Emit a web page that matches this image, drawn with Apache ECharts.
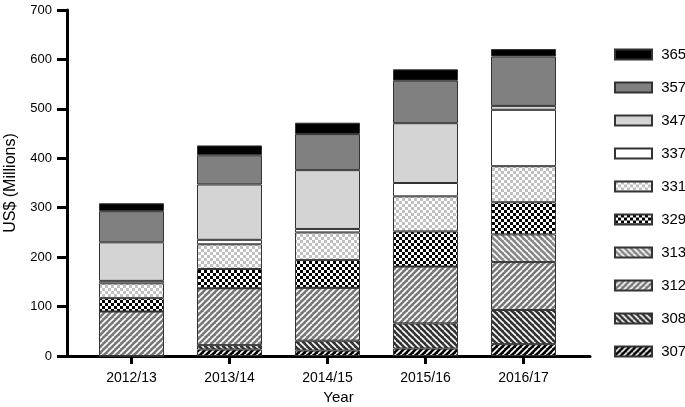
<!DOCTYPE html>
<html><head><meta charset="utf-8">
<script src="https://cdn.jsdelivr.net/npm/echarts@6/dist/echarts.min.js"></script>
<style>html,body{margin:0;padding:0;background:#fff}#c{width:685px;height:407px}</style>
</head><body><div id="c"></div>
<script>
var categories = ['2012/13', '2013/14', '2014/15', '2015/16', '2016/17'];
var yTicks = [0, 100, 200, 300, 400, 500, 600, 700];
var v307 = [0, 13, 11, 15, 24];
var v308 = [0, 9, 20, 51, 69];
var v312 = [90, 115, 107, 115, 97];
var v313 = [0, 0, 0, 0, 56];
var v329 = [27, 39, 56, 71, 65];
var v331 = [30, 50, 56, 71, 73];
var v337 = [5, 9, 7, 27, 114];
var v347 = [78, 112, 119, 121, 8];
var v357 = [63, 59, 73, 86, 100];
var v365 = [16, 20, 23, 23, 15];
var seriesNames = ['307', '308', '312', '313', '329', '331', '337', '347', '357', '365'];
var seriesValues = [v307, v308, v312, v313, v329, v331, v337, v347, v357, v365];

function stripes(bg, fg, dir, p, lw) {
  var c = document.createElement('canvas');
  c.width = p; c.height = p;
  var g = c.getContext('2d');
  g.fillStyle = bg; g.fillRect(0, 0, p, p);
  g.strokeStyle = fg; g.lineWidth = lw;
  for (var k = -1; k <= 1; k++) {
    g.beginPath();
    if (dir === '/') { g.moveTo(k * p, p); g.lineTo(k * p + p, 0); }
    else { g.moveTo(k * p, 0); g.lineTo(k * p + p, p); }
    g.stroke();
  }
  return { image: c, repeat: 'repeat' };
}
function checks(a, b, s) {
  var c = document.createElement('canvas');
  c.width = 2 * s; c.height = 2 * s;
  var g = c.getContext('2d');
  g.fillStyle = a; g.fillRect(0, 0, 2 * s, 2 * s);
  g.fillStyle = b; g.fillRect(0, 0, s, s); g.fillRect(s, s, s, s);
  return { image: c, repeat: 'repeat' };
}
var fills = {
  '307': stripes('#000000', '#ffffff', '/', 6, 1.6),
  '308': stripes('#333333', '#ffffff', '\\', 6, 1.6),
  '312': stripes('#777777', '#ffffff', '/', 6, 1.6),
  '313': stripes('#888888', '#ffffff', '\\', 6, 1.6),
  '329': checks('#ffffff', '#000000', 3),
  '331': checks('#ffffff', '#c0c0c0', 3),
  '337': '#ffffff',
  '347': '#d4d4d4',
  '357': '#808080',
  '365': '#000000'
};

var series = seriesNames.map(function (n, i) {
  return {
    name: n, type: 'bar', stack: 'total', barWidth: 65,
    xAxisIndex: 0, yAxisIndex: 0,
    itemStyle: { color: fills[n], borderColor: '#333', borderWidth: 1 },
    data: seriesValues[i]
  };
});

var chart = echarts.init(document.getElementById('c'), null, { renderer: 'canvas' });
chart.setOption({
  animation: false,
  backgroundColor: '#fff',
  textStyle: { fontFamily: 'Liberation Sans, Arial, sans-serif', color: '#000' },
  grid: [
    { left: 82.5, right: 112.5, top: 10, bottom: 51, containLabel: false, outerBoundsMode: 'none' },
    { left: 67, right: 95, top: 10, bottom: 51, containLabel: false, outerBoundsMode: 'none' }
  ],
  xAxis: [
    { type: 'category', gridIndex: 0, data: categories,
      axisLine: { show: false },
      axisTick: { show: true, alignWithLabel: true, length: 8, lineStyle: { color: '#000', width: 3 } },
      axisLabel: { fontSize: 14, color: '#000', margin: 15 },
      name: 'Year', nameLocation: 'middle', nameGap: 34,
      nameTextStyle: { fontSize: 15, color: '#000', padding: [0, 0, 0, 22] } },
    { type: 'value', gridIndex: 1, min: 0, max: 1,
      axisLine: { show: true, lineStyle: { color: '#000', width: 3 } },
      axisTick: { show: false }, axisLabel: { show: false }, splitLine: { show: false } }
  ],
  yAxis: [
    { type: 'value', gridIndex: 0, min: 0, max: 700, show: false },
    { type: 'value', gridIndex: 1, min: 0, max: 700, interval: 100,
      axisLine: { show: true, lineStyle: { color: '#000', width: 3 } },
      axisTick: { show: true, length: 10, lineStyle: { color: '#000', width: 3 } },
      axisLabel: { fontSize: 13, color: '#000', margin: 15,
        customValues: yTicks },
      splitLine: { show: false },
      name: 'US$ (Millions)', nameLocation: 'middle', nameGap: 48,
      nameTextStyle: { fontSize: 16, color: '#000' } }
  ],
  legend: {
    orient: 'vertical', left: 614, top: 47, padding: 0,
    data: seriesNames.slice().reverse(),
    itemWidth: 37, itemHeight: 10, itemGap: 18,
    icon: 'rect',
    formatter: function (n) { return ' ' + n; },
    textStyle: { fontSize: 15, color: '#000', lineHeight: 15 }
  },
  series: series
});
</script>
</body></html>
